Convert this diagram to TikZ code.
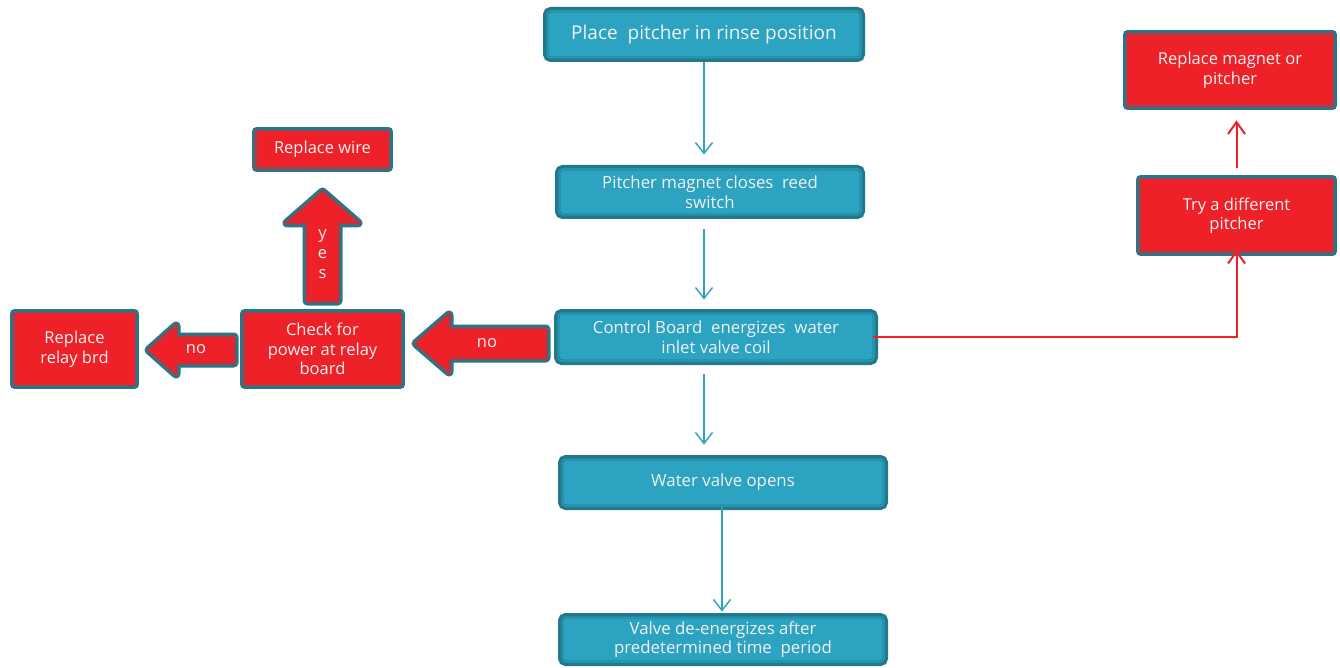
\documentclass[tikz,border=0pt]{standalone}
\usepackage{fontspec}
\setmainfont{Open Sans}
\usetikzlibrary{arrows.meta, positioning, calc}
\definecolor{boxteal}{RGB}{34,121,141}
\definecolor{boxblue}{RGB}{43,163,193}
\definecolor{boxred}{RGB}{237,33,39}
\definecolor{boxtext}{RGB}{242,242,242}

\begin{document}
\begin{tikzpicture}[
    x=1pt, y=1pt,
    bluebox/.style={rectangle, rounded corners=3pt, inner sep=0pt, align=center,
        fill=boxblue, draw=boxteal, line width=0.8pt, text=boxtext,
        preaction={draw=boxteal, line width=10pt},
        preaction={draw=boxblue, line width=3pt},
        font=\fontsize{16.8}{19.5}\selectfont},
    redbox/.style={rectangle, inner sep=0pt, align=center,
        fill=boxred, draw=boxteal!55!boxred, line width=0.6pt, text=boxtext,
        preaction={draw=boxteal, line width=9pt, line join=round},
        preaction={draw=boxred, line width=3pt},
        font=\fontsize{16.5}{19.5}\selectfont},
    blockarr/.style={fill=boxred, draw=boxteal!55!boxred, line width=0.6pt,
        preaction={draw=boxteal, line width=9pt, line join=round},
        preaction={draw=boxred, line width=3pt}},
    arrlabel/.style={text=boxtext, inner sep=0pt, align=center, font=\fontsize{16.5}{20}\selectfont},
    flow/.style={draw=boxblue, line width=1.4pt, -{Straight Barb[length=11pt, width=17pt]}},
    redflow/.style={draw=boxred, line width=2pt, -{Straight Barb[length=12pt, width=17pt]}},
]
\useasboundingbox (0,0) rectangle (1340,-668);

% Main sequence
\node[bluebox, minimum width=312pt, minimum height=45pt, font=\fontsize{19}{22}\selectfont] (place) at (704,-34.5) {Place\ \ pitcher in rinse position};
\node[bluebox, minimum width=300pt, minimum height=44pt] (magnet) at (710,-192) {Pitcher magnet closes\ \ reed\\switch};
\node[bluebox, minimum width=314pt, minimum height=46pt] (control) at (716,-337) {Control Board\ \ energizes\ \ water\\inlet valve coil};
\node[bluebox, minimum width=320pt, minimum height=45pt] (opens) at (723,-482.5) {Water valve opens};
\node[bluebox, minimum width=320pt, minimum height=43pt] (deenergize) at (723,-639.5) {Valve de-energizes after\\predetermined time\ \ period};

% Relay branch
\node[redbox, minimum width=132pt, minimum height=36pt] (wire) at (322.5,-149.5) {Replace wire};
\node[redbox, minimum width=156pt, minimum height=71pt] (check) at (322.5,-349) {Check for\\power at relay\\board};
\node[redbox, minimum width=120pt, minimum height=71pt] (relay) at (74.5,-349) {Replace\\relay brd};

% Pitcher branch
\node[redbox, minimum width=205pt, minimum height=71pt] (magnetor) at (1230,-70) {Replace magnet or\\pitcher};
\node[redbox, minimum width=192pt, minimum height=72pt] (try) at (1236.5,-215.5) {Try a different\\pitcher};

% Thin flow arrows
\draw[flow, shorten <=5pt, shorten >=15pt] (place.south) -- (place.south |- magnet.north);
\draw[flow, shorten <=15pt, shorten >=14pt] (magnet.south -| place.south) -- (control.north -| place.south);
\draw[flow, shorten <=14pt, shorten >=15pt] (control.south -| place.south) -- (opens.north -| place.south);
\draw[flow, shorten <=2pt, shorten >=6pt] ([xshift=-1pt]opens.south) -- ([xshift=-1pt]deenergize.north);

% Red connectors
\draw[redflow, shorten >=-2pt] (control.east) -| (try.south);
\draw[redflow, shorten <=11.5pt, shorten >=14.5pt] (try.north) -- (try.north |- magnetor.south);

% Block arrows
\path[blockarr] (546,-329) -- (449,-329) -- (449,-315) -- (416,-343.5) -- (449,-372) -- (449,-358) -- (546,-358) -- cycle;
\node[arrlabel] (nobig) at (487,-343.5) {no};
\path[blockarr] (234,-337) -- (176,-337) -- (176,-326) -- (149,-350) -- (176,-374) -- (176,-363) -- (234,-363) -- cycle;
\node[arrlabel] (nosmall) at (196,-349) {no};
\path[blockarr] (307,-301) -- (307,-223) -- (287,-223) -- (322.5,-192) -- (358,-223) -- (338,-223) -- (338,-301) -- cycle;
\node[arrlabel] (yes) at (322.5,-254) {y\\e\\s};
\end{tikzpicture}
\end{document}
